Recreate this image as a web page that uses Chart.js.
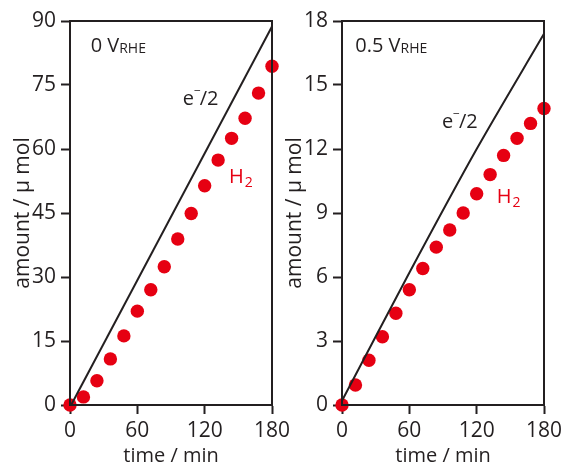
<!DOCTYPE html>
<html>
<head>
<meta charset="utf-8">
<script src="https://cdn.jsdelivr.net/npm/chart.js@4/dist/chart.umd.min.js"></script>
<style>
  html, body { margin: 0; padding: 0; background: #fff; overflow: hidden; }
  #wrap { position: relative; width: 561px; height: 466px; overflow: hidden; }
  .box { position: absolute; top: 0; width: 290px; height: 466px; }
</style>
</head>
<body>
<div id="wrap">
  <div class="box" style="left:0"><canvas id="left"></canvas></div>
  <div class="box" style="left:272px"><canvas id="right"></canvas></div>
</div>
<script>
// time in minutes (H2 sampled every 12 min)
var times = [0, 12, 24, 36, 48, 60, 72, 84, 96, 108, 120, 132, 144, 156, 168, 180];

// 0 V_RHE
var h2Left = [0, 1.9, 5.7, 10.8, 16.2, 22.0, 27.0, 32.4, 38.9, 44.9, 51.4, 57.4, 62.5, 67.2, 73.1, 79.4];
var eTimesLeft = [1, 180];
var eLeft = [0, 88.7];
var yTicksLeft = [0, 15, 30, 45, 60, 75, 90];

// 0.5 V_RHE
var h2Right = [0, 0.94, 2.1, 3.2, 4.3, 5.4, 6.4, 7.4, 8.2, 9.0, 9.9, 10.8, 11.7, 12.5, 13.2, 13.9];
var eTimesRight = [0, 60, 120, 180];
var eRight = [0.2, 6.2, 12.0, 17.4];
var yTicksRight = [0, 3, 6, 9, 12, 15, 18];

var xTicks = [0, 60, 120, 180];

var ink = '#231f20';
var red = '#e60012';
var fam = "'Open Sans', sans-serif";

function pairs(xs, ys) {
    return xs.map(function(x, i) { return {x: x, y: ys[i]}; });
}

// frame + in-plot labels
function labelsPlugin(tag, eLab, h2Lab) {
    return {
        id: 'labels',
        afterDraw: function(chart) {
            var c = chart.ctx, a = chart.chartArea;
            var sx = chart.scales.x, sy = chart.scales.y;
            c.save();
            c.strokeStyle = ink;
            c.lineWidth = 2;
            c.strokeRect(a.left, a.top, a.right - a.left, a.bottom - a.top);
            c.textBaseline = 'alphabetic';
            c.textAlign = 'left';
            // potential label
            var px = sx.getPixelForValue(tag.x), py = sy.getPixelForValue(tag.y);
            c.fillStyle = ink;
            c.font = '20px ' + fam;
            c.fillText(tag.text + ' V', px, py);
            var w = c.measureText(tag.text + ' V').width;
            c.font = '14px ' + fam;
            c.fillText('RHE', px + w, py + 1);
            // e-/2
            px = sx.getPixelForValue(eLab.x); py = sy.getPixelForValue(eLab.y);
            c.font = '20px ' + fam;
            c.fillText('e', px, py);
            w = c.measureText('e').width;
            c.font = '12px ' + fam;
            c.fillText('\u2212', px + w, py - 10);
            var w2 = c.measureText('\u2212').width;
            c.font = '20px ' + fam;
            c.fillText('/2', px + w + w2 - 1, py);
            // H2
            px = sx.getPixelForValue(h2Lab.x); py = sy.getPixelForValue(h2Lab.y);
            c.fillStyle = red;
            c.fillText('H', px, py);
            w = c.measureText('H').width;
            c.font = '14px ' + fam;
            c.fillText('2', px + w + 1, py + 4);
            c.restore();
        }
    };
}

function makeChart(id, h2, eT, eV, yTicks, yMax, tag, eLab, h2Lab) {
    var ctx = document.getElementById(id).getContext('2d');
    return new Chart(ctx, {
        type: 'scatter',
        data: {
            datasets: [{
                label: 'e-/2',
                type: 'line',
                data: pairs(eT, eV),
                borderColor: ink,
                borderWidth: 2,
                pointRadius: 0,
                fill: false,
                tension: 0.3,
                clip: false
            }, {
                label: 'H2',
                data: pairs(times, h2),
                backgroundColor: red,
                borderColor: red,
                pointRadius: 6.7,
                pointBorderWidth: 0,
                clip: false
            }]
        },
        options: {
            responsive: false,
            animation: false,
            events: [],
            layout: { padding: { left: 0, right: 18, top: 21, bottom: 0 } },
            plugins: { legend: { display: false }, tooltip: { enabled: false } },
            scales: {
                x: {
                    type: 'linear',
                    min: 0, max: 180,
                    afterBuildTicks: function(s) { s.ticks = xTicks.map(function(v) { return {value: v}; }); },
                    afterFit: function(s) { s.height = 61; s.paddingLeft = 0; s.paddingRight = 0; },
                    grid: { drawOnChartArea: false, drawTicks: true, tickLength: 9, tickWidth: 2, color: ink },
                    border: { display: true, color: ink, width: 2 },
                    ticks: { color: ink, font: { family: fam, size: 21 }, padding: 4, maxRotation: 0 },
                    title: { display: true, text: 'time / min', color: ink,
                             font: { family: fam, size: 20, lineHeight: 1.0 }, padding: { top: 0, bottom: 0 } }
                },
                y: {
                    type: 'linear',
                    min: 0, max: yMax,
                    afterBuildTicks: function(s) { s.ticks = yTicks.map(function(v) { return {value: v}; }); },
                    afterFit: function(s) { s.width = 70; s.paddingTop = 0; s.paddingBottom = 0; },
                    grid: { drawOnChartArea: false, drawTicks: true, tickLength: 9, tickWidth: 2, color: ink },
                    border: { display: true, color: ink, width: 2 },
                    ticks: { color: ink, font: { family: fam, size: 21 }, padding: 5 },
                    title: { display: true, text: 'amount / \u03bc mol', color: ink,
                             font: { family: fam, size: 21, lineHeight: 1.2 }, padding: { top: 10, bottom: 0 } }
                }
            }
        },
        plugins: [labelsPlugin(tag, eLab, h2Lab)]
    });
}

['left', 'right'].forEach(function(id) {
    var cv = document.getElementById(id);
    cv.width = 290;
    cv.height = 466;
});

makeChart('left', h2Left, eTimesLeft, eLeft, yTicksLeft, 90,
    {x: 18.4, y: 82.7, text: '0'}, {x: 100.4, y: 70.3}, {x: 141.7, y: 52.0});
makeChart('right', h2Right, eTimesRight, eRight, yTicksRight, 18,
    {x: 11.8, y: 16.55, text: '0.5'}, {x: 89, y: 13.0}, {x: 137.9, y: 9.47});
</script>
</body>
</html>
